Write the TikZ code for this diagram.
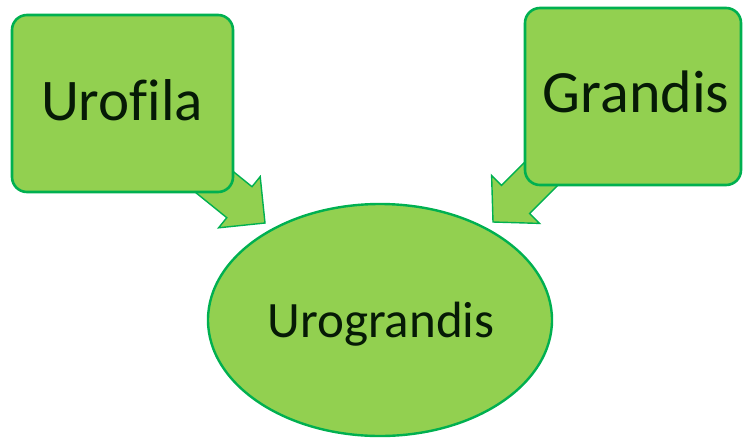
\documentclass[tikz,border=0pt]{standalone}
\usepackage{fontspec}
\setmainfont[Ligatures=NoCommon]{Carlito}
\definecolor{leaf}{HTML}{92D050}
\definecolor{rim}{HTML}{00B050}
\definecolor{ink}{HTML}{061A06}
\begin{document}
\begin{tikzpicture}[x=1pt,y=-1pt,
  box/.style={draw=rim,fill=leaf,line width=2.6pt,rounded corners=15pt},
  blockarrow/.style={draw=rim,fill=leaf,line width=1.4pt,line join=miter},
  label/.style={text=ink,anchor=base,inner sep=0pt}]
\useasboundingbox (0,0) rectangle (743,437);
% block arrows (under the boxes)
\draw[blockarrow] (189.8,136.4) -- (252.0,186.7) -- (260.2,176.6) -- (265,223) -- (218.6,227.8) -- (226.8,217.7) -- (164.6,167.4) -- cycle;
\draw[blockarrow] (558.1,128.7) -- (501.5,185.3) -- (491.6,175.4) -- (493,222) -- (539.6,223.4) -- (529.7,213.5) -- (586.3,156.9) -- cycle;
% boxes
\draw[box] (12,15) rectangle (233,192);
\draw[box] (525,8) rectangle (741,185);
% ellipse
\draw[draw=rim,fill=leaf,line width=2.4pt] (380,320) ellipse [x radius=172, y radius=116];
% labels
\node[label,font=\fontsize{59}{60}\selectfont] (uro) at (122,120) {Urofila};
\node[label,font=\fontsize{60}{62}\selectfont] (gra) at (636,112) {Grandis};
\node[label,font=\fontsize{51}{53}\selectfont] (urogr) at (381,337) {Urograndis};
\end{tikzpicture}
\end{document}
